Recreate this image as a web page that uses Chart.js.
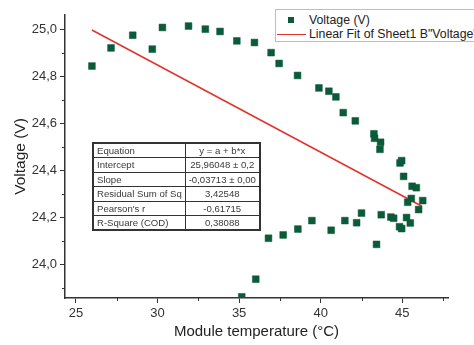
<!DOCTYPE html>
<html>
<head>
<meta charset="utf-8">
<script src="https://cdn.jsdelivr.net/npm/chart.js@4/dist/chart.umd.min.js"></script>
<style>
  html, body { margin:0; padding:0; background:#fff; overflow:hidden; }
  #wrap { position:relative; width:474px; height:345px; overflow:hidden; }
  canvas { position:absolute; left:0; top:0; }
  #legend { position:absolute; left:275px; top:9px; width:220px; height:33px; border:1px solid #bdbdbd; box-sizing:border-box; background:#fff; font-family:"Liberation Sans", Arial, sans-serif; font-size:12.3px; color:#222; white-space:nowrap; }
  #legend .row { position:absolute; left:0; height:14px; line-height:14px; }
  #legend .mk { position:absolute; left:12px; top:4px; width:6px; height:6px; background:#0b5a3a; }
  #legend .ln { position:absolute; left:1px; top:6.5px; width:29px; height:1.6px; background:#e0342f; }
  #legend .tx { position:absolute; left:33px; top:0; }
  #stats { position:absolute; left:92px; top:142px; width:167px; height:87px; table-layout:fixed; border-collapse:collapse; font-family:"Liberation Sans", Arial, sans-serif; font-size:9.6px; color:#3a3a3a; border:2px solid #333; }
  #stats tr { height:14.5px; }
  #stats td { border:1.5px solid #333; padding:0 2px 0 3px; line-height:11px; white-space:nowrap; overflow:hidden; }
  #stats td.v { text-align:center; padding:0 1px; }
</style>
</head>
<body>
<div id="wrap">
  <canvas id="c" width="474" height="345"></canvas>
  <div id="legend">
    <div class="row" style="top:3px;"><div class="mk"></div><div class="tx">Voltage (V)</div></div>
    <div class="row" style="top:17px;"><div class="ln"></div><div class="tx">Linear Fit of Sheet1 B"Voltage"</div></div>
  </div>
  <table id="stats"><colgroup><col style="width:92px"><col style="width:75px"></colgroup></table>
</div>
<script>
// ---- data ----
const temperatures = [25.98, 27.15, 28.48, 29.68, 30.3, 31.9, 32.93, 33.83, 34.86, 35.94, 36.96, 37.45, 38.58, 39.89, 40.5, 40.93, 41.38, 42.12, 43.26, 43.3, 43.67, 43.63, 44.86, 44.96, 45.08, 45.6, 45.86, 45.55, 45.33, 46.25, 46.0, 42.5, 43.71, 44.3, 44.47, 45.26, 45.49, 44.83, 44.96, 41.48, 42.2, 39.46, 40.64, 38.6, 37.7, 36.8, 43.42, 36.02, 35.16];
const voltages = [24.843, 24.92, 24.974, 24.915, 25.007, 25.013, 25.0, 24.99, 24.95, 24.943, 24.90, 24.854, 24.803, 24.75, 24.736, 24.712, 24.645, 24.61, 24.555, 24.536, 24.519, 24.489, 24.431, 24.441, 24.374, 24.332, 24.326, 24.28, 24.264, 24.271, 24.233, 24.218, 24.211, 24.201, 24.196, 24.199, 24.176, 24.16, 24.152, 24.186, 24.177, 24.186, 24.145, 24.15, 24.125, 24.111, 24.085, 23.937, 23.862];
const fitTemps = [25.98, 46.2];
const fitVoltages = [24.996, 24.247];
const statLabels = ["Equation", "Intercept", "Slope", "Residual Sum of Sq", "Pearson's r", "R-Square (COD)"];
const statValues = ["y = a + b*x", "25,96048 \u00b1 0,2", "-0,03713 \u00b1 0,00", "3,42548", "-0,61715", "0,38088"];
const xMinorTicks = [27.5, 32.5, 37.5, 42.5, 47.5];
const yMinorTicks = [23.9, 24.1, 24.3, 24.5, 24.7, 24.9];

// stats table
const tbl = document.getElementById('stats');
statLabels.forEach((l, i) => {
  const tr = document.createElement('tr');
  const a = document.createElement('td'); a.className = 'k'; a.textContent = l;
  const b = document.createElement('td'); b.className = 'v'; b.textContent = statValues[i];
  tr.appendChild(a); tr.appendChild(b); tbl.appendChild(tr);
});

const minorTicks = {
  id: 'minorTicks',
  afterDraw(chart) {
    const ctx = chart.ctx, xs = chart.scales.x, ys = chart.scales.y;
    ctx.save();
    ctx.strokeStyle = '#333'; ctx.lineWidth = 1;
    ctx.beginPath();
    xMinorTicks.forEach(v => { const p = Math.round(xs.getPixelForValue(v)) + 0.5; ctx.moveTo(p, ys.bottom); ctx.lineTo(p, ys.bottom + 3); });
    yMinorTicks.forEach(v => { const p = Math.round(ys.getPixelForValue(v)) + 0.5; ctx.moveTo(xs.left, p); ctx.lineTo(xs.left - 3, p); });
    ctx.stroke();
    ctx.restore();
  }
};

const font = { family: '"Liberation Sans", Arial, sans-serif' };
new Chart(document.getElementById('c'), {
  type: 'scatter',
  data: {
    datasets: [
      {
        label: 'Voltage (V)',
        data: temperatures.map((t, i) => ({ x: t, y: voltages[i] })),
        pointStyle: 'rect', pointRadius: 4.8, pointBorderWidth: 0.5,
        backgroundColor: '#0b5a3a', borderColor: '#0b5a3a'
      },
      {
        label: 'Linear Fit',
        data: fitTemps.map((t, i) => ({ x: t, y: fitVoltages[i] })),
        showLine: true, pointRadius: 0, borderColor: '#e0342f', borderWidth: 1.6, backgroundColor: '#e0342f'
      }
    ]
  },
  options: {
    responsive: false, animation: false,
    layout: { padding: { left: 0, top: 15, right: 26, bottom: 0 } },
    plugins: { legend: { display: false }, tooltip: { enabled: false } },
    scales: {
      x: {
        type: 'linear', position: 'bottom', min: 24.33, max: 47.8,
        afterFit: s => { s.height = 47; },
        ticks: { stepSize: 5, includeBounds: false, color: '#333', padding: 3, font: { ...font, size: 13 }, maxRotation: 0 },
        grid: { drawOnChartArea: false, tickLength: 5, color: '#333' },
        border: { color: '#333', width: 1.5 },
        title: { display: true, text: 'Module temperature (\u00b0C)', color: '#222', font: { ...font, size: 15 }, padding: { top: 0, bottom: 4 } }
      },
      y: {
        type: 'linear', min: 23.857, max: 25.06,
        afterFit: s => { s.width = 65; },
        ticks: { stepSize: 0.2, includeBounds: false, color: '#333', padding: 3, font: { ...font, size: 13 },
          callback: v => v.toFixed(1).replace('.', ',') },
        grid: { drawOnChartArea: false, tickLength: 5, color: '#333' },
        border: { color: '#333', width: 1.5 },
        title: { display: true, text: 'Voltage (V)', color: '#222', font: { ...font, size: 15.5 }, padding: { top: 11, bottom: 0 } }
      }
    }
  },
  plugins: [minorTicks]
});
</script>
</body>
</html>
